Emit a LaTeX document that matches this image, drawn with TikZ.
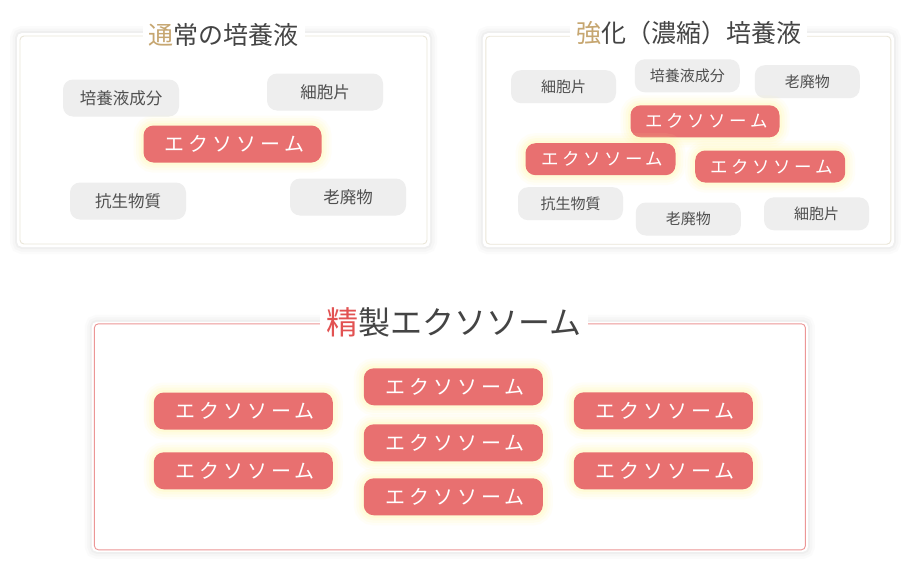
\documentclass[tikz,border=0pt]{standalone}
\usepackage{fontspec}
\setmainfont{Noto Sans CJK JP}
\newfontfamily\exofont[LetterSpace=20]{Noto Sans CJK JP}
\definecolor{exo}{RGB}{232,112,112}
\definecolor{graybg}{RGB}{238,238,238}
\definecolor{graytxt}{RGB}{80,80,80}
\definecolor{titletxt}{RGB}{68,68,68}
\definecolor{goldc}{RGB}{198,166,112}
\definecolor{redc}{RGB}{226,82,82}
\definecolor{beige}{RGB}{234,230,216}
\definecolor{pinkb}{RGB}{236,150,150}
\definecolor{glowc}{RGB}{255,248,150}
\definecolor{shadowc}{RGB}{120,120,110}
\tikzset{
  cardshadow/.style={fill=white, draw=none, rounded corners=5pt, inner sep=0pt,
    preaction={draw=shadowc, line width=14pt, opacity=0.025},
    preaction={draw=shadowc, line width=9pt, opacity=0.035},
    preaction={draw=shadowc, line width=4pt, opacity=0.05}},
  cardline/.style={draw=#1, line width=0.9pt, fill=none, rounded corners=4pt, inner sep=0pt},
  cardtitle/.style={fill=white, inner xsep=6pt, inner ysep=2pt, text=titletxt},
  graylbl/.style={fill=graybg, rounded corners=10pt, text=graytxt, inner sep=0pt,
    minimum width=#1},
  exolbl/.style={fill=exo, rounded corners=10pt, text=white, inner sep=0pt,
    minimum width=#1,
    preaction={draw=glowc, line width=20pt, opacity=0.07},
    preaction={draw=glowc, line width=15pt, opacity=0.09},
    preaction={draw=glowc, line width=10pt, opacity=0.12},
    preaction={draw=glowc, line width=5pt, opacity=0.15}},
  big/.style={minimum height=37pt, font=\fontsize{16.5}{18}\selectfont},
  small/.style={minimum height=33pt, font=\fontsize{15}{17}\selectfont},
  bigexo/.style={minimum height=37pt, font=\exofont\fontsize{20}{22}\selectfont},
  smallexo/.style={minimum height=32pt, font=\exofont\fontsize{17.5}{19}\selectfont},
}
\newcommand{\exotext}{\hspace*{0.2em}エクソソーム}
\begin{document}
\begin{tikzpicture}[x=1pt,y=-1pt]
\useasboundingbox[fill=white] (0,0) rectangle (913,570);

% ---------- card 1 ----------
\node[cardshadow, minimum width=413pt, minimum height=214pt] (c1) at (223.5,140) {};
\node[cardline=beige, minimum width=407pt, minimum height=208pt] (c1b) at (223.5,140) {};
\node[cardtitle, font=\fontsize{25}{28}\selectfont] (t1) at (223.5,35) {{\color{goldc}通}常の培養液};

\node[graylbl=116pt, big] (a1) at (121,98) {培養液成分};
\node[graylbl=116pt, big] (a2) at (325,92) {細胞片};
\node[graylbl=116pt, big] (a3) at (128,201) {抗生物質};
\node[graylbl=116pt, big] (a4) at (348,197) {老廃物};
\node[exolbl=178pt, bigexo] (e1) at (232.5,144) {\exotext};

% ---------- card 2 ----------
\node[cardshadow, minimum width=411pt, minimum height=214pt] (c2) at (688.3,140.2) {};
\node[cardline=beige, minimum width=405pt, minimum height=208pt] (c2b) at (688.3,140.2) {};
\node[cardtitle, font=\fontsize{25}{28}\selectfont] (t2) at (688.5,33) {{\color{goldc}強}化（濃縮）培養液};

\node[graylbl=105pt, small] (b1) at (563.5,86.7) {細胞片};
\node[graylbl=105pt, small] (b2) at (687.3,75.8) {培養液成分};
\node[graylbl=105pt, small] (b3) at (807.3,81.7) {老廃物};
\node[graylbl=105pt, small] (b4) at (570.5,203.7) {抗生物質};
\node[graylbl=105pt, small] (b5) at (688.3,219) {老廃物};
\node[graylbl=105pt, small] (b6) at (816.5,213.8) {細胞片};
\node[exolbl=149pt, smallexo] (f1) at (705,121.3) {\exotext};
\node[exolbl=150pt, smallexo] (f2) at (600.5,159.2) {\exotext};
\node[exolbl=150pt, smallexo] (f3) at (770.2,166.5) {\exotext};

% ---------- card 3 ----------
\node[cardshadow, minimum width=716pt, minimum height=230pt] (c3) at (449.9,436.8) {};
\node[cardline=pinkb, minimum width=711pt, minimum height=226pt] (c3b) at (449.9,436.8) {};
\node[cardtitle, font=\fontsize{32}{34}\selectfont] (t3) at (454,322) {{\color{redc}精}製エクソソーム};

\node[exolbl=179pt, bigexo] (g1) at (243.3,411) {\exotext};
\node[exolbl=179pt, bigexo] (g2) at (243.3,470.8) {\exotext};
\node[exolbl=179pt, bigexo] (g3) at (453.3,386.8) {\exotext};
\node[exolbl=179pt, bigexo] (g4) at (453.3,442.8) {\exotext};
\node[exolbl=179pt, bigexo] (g5) at (453.3,496.8) {\exotext};
\node[exolbl=179pt, bigexo] (g6) at (663.3,410.8) {\exotext};
\node[exolbl=179pt, bigexo] (g7) at (663.3,470.8) {\exotext};
\end{tikzpicture}
\end{document}
